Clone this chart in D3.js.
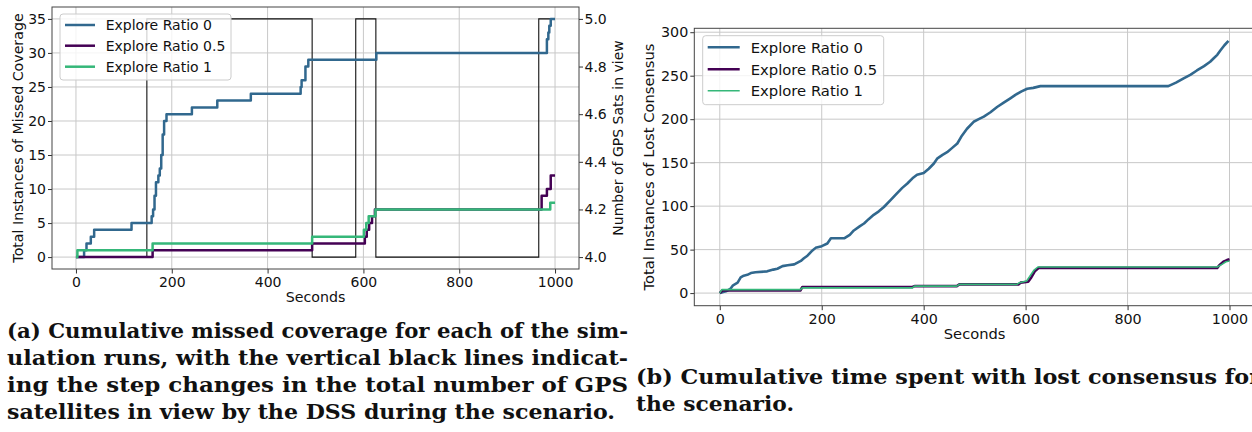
<!DOCTYPE html>
<html>
<head>
<meta charset="utf-8">
<script src="https://d3js.org/d3.v7.min.js"></script>
<style>
    body { margin: 0; background: #fff; }
    svg text { font-family: "DejaVu Sans", sans-serif; fill: #111; }
    .grid line { stroke: #c8c8c8; stroke-width: 1; }
    .tick text { font-size: 14px; }
    .caption { font-family: "DejaVu Serif", serif !important; font-weight: bold; font-size: 20px; }
</style>
</head>
<body>
<svg id="chart" width="1252" height="432"></svg>
<script>
// ---- data ----
var seriesNames = ['Explore Ratio 0', 'Explore Ratio 0.5', 'Explore Ratio 1'];
var seriesColors = ['#31688e', '#440154', '#35b779'];

// (a) cumulative missed coverage, [seconds, count]
var missedR0 = [[0,0],[17,1],[22,2],[31,3],[38,4],[116,5],[158,6],[161,7],[164,9],[167,11],[172,12],[175,13],[178,15],[181,18],[184,20],[189,21],
    [242,22],[295,23],[365,24],[469,25],[471,26],[479,28],[485,29],[627,30],[983,32],[986,33],[988,34],[991,35],[1000,35]];
var missedR05 = [[0,0],[160,1],[493,2],[603,3],[607,4],[612,5],[618,6],[624,7],[972,9],[983,10],[991,12],[1000,12]];
var missedR1 = [[0,0],[3,1],[160,2],[493,3],[601,4],[606,5],[611,6],[625,7],[990,8],[1000,8]];

// GPS satellites in view (step changes)
var gpsSats = [[0,4],[148,5],[493,4],[584,5],[626,4],[966,5],[1000,5]];

// (b) cumulative lost consensus
var consensusR0 = [[0,0],[5,1],[12,2],[18,4],[21,5],[26,9],[35,12],[41,18],[47,20],[54,21],[61,23],[70,24],[93,25],[105,27],[113,28],
    [123,31],[133,32],[146,33],[159,37],[165,40],[172,43],[180,48],[188,52],[200,54],[211,57],[218,63],[244,63],[255,67],[263,72],
    [275,77],[283,80],[292,85],[302,90],[312,94],[322,99],[335,107],[348,115],[358,121],[368,126],[378,132],[387,136],[400,138],
    [410,143],[420,149],[427,155],[437,159],[446,162],[456,167],[466,172],[475,181],[485,189],[498,197],[508,200],[518,203],
    [531,208],[544,214],[557,219],[570,224],[580,228],[592,232],[603,235],[615,236],[629,238],[880,238],[895,242],[910,247],
    [923,251],[936,256],[950,261],[962,266],[969,270],[976,274],[982,279],[990,285],[998,290]];
var consensusR05 = [[0,0],[5,3],[158,3],[162,7],[378,7],[382,8],[465,8],[470,10],[586,10],[590,12],[605,13],[610,17],[618,25],[626,29],
    [976,29],[980,32],[988,36],[995,38],[1000,39]];
var consensusR1 = [[0,0],[4,4],[158,4],[162,6],[378,6],[382,8],[465,8],[470,10],[583,10],[588,12],[602,14],[608,19],[616,26],[624,30],
    [976,30],[985,33],[993,36],[1000,37]];

var xTicks = [0, 200, 400, 600, 800, 1000];
var missedTicks = [0, 5, 10, 15, 20, 25, 30, 35];
var gpsTicks = [4.0, 4.2, 4.4, 4.6, 4.8, 5.0];
var consensusTicks = [0, 50, 100, 150, 200, 250, 300];

var captionA = ['(a) Cumulative missed coverage for each of the sim-',
    'ulation runs, with the vertical black lines indicat-',
    'ing the step changes in the total number of GPS',
    'satellites in view by the DSS during the scenario.'];
var captionB = ['(b) Cumulative time spent with lost consensus for', 'the scenario.'];

var svg = d3.select('#chart');

function drawPanel(box, yDomain, yTicks, yLabel, series, widths, curve, legendBox, legendFont) {
    var g = svg.append('g');
    var x = d3.scaleLinear().domain([-50, 1050]).range([box.x0, box.x1]);
    var y = d3.scaleLinear().domain(yDomain).range([box.y1, box.y0]);

    var clipId = 'clip' + Math.round(box.x0);
    svg.append('clipPath').attr('id', clipId).append('rect')
        .attr('x', box.x0).attr('y', box.y0).attr('width', box.x1 - box.x0).attr('height', box.y1 - box.y0);

    // grid
    var grid = g.append('g').attr('class', 'grid');
    grid.selectAll('.gx').data(xTicks).enter().append('line')
        .attr('x1', x).attr('x2', x).attr('y1', box.y0).attr('y2', box.y1);
    grid.selectAll('.gy').data(yTicks).enter().append('line')
        .attr('x1', box.x0).attr('x2', box.x1).attr('y1', y).attr('y2', y);

    var layer = g.append('g').attr('clip-path', 'url(#' + clipId + ')');

    var line = d3.line().x(function (d) { return x(d[0]); }).y(function (d) { return y(d[1]); }).curve(curve);
    series.forEach(function (s, i) {
        layer.append('path').datum(s).attr('d', line)
            .attr('fill', 'none').attr('stroke', seriesColors[i]).attr('stroke-width', widths[i])
            .attr('stroke-linejoin', 'round');
    });

    // axes
    g.append('g').attr('transform', 'translate(0,' + box.y1 + ')')
        .call(d3.axisBottom(x).tickValues(xTicks).tickSize(4.5).tickPadding(4).tickFormat(d3.format('d')));
    g.append('g').attr('transform', 'translate(' + box.x0 + ',0)')
        .call(d3.axisLeft(y).tickValues(yTicks).tickSize(4).tickPadding(2).tickFormat(d3.format('d')));
    g.selectAll('.domain').remove();
    g.selectAll('.tick line').attr('stroke', '#333');
    g.selectAll('.tick text').style('font-size', box.tickSize + 'px');

    g.append('rect').attr('x', box.x0).attr('y', box.y0).attr('width', box.x1 - box.x0).attr('height', box.y1 - box.y0)
        .attr('fill', 'none').attr('stroke', '#444').attr('stroke-width', 1);

    g.append('text').attr('x', (box.x0 + box.x1) / 2).attr('y', box.y1 + 33)
        .attr('text-anchor', 'middle').style('font-size', box.labelSize + 'px').text('Seconds');
    g.append('text').attr('transform', 'translate(' + box.ylabX + ',' + (box.y0 + box.y1) / 2 + ') rotate(-90)')
        .attr('text-anchor', 'middle').attr('dominant-baseline', 'central').style('font-size', box.labelSize + 'px').text(yLabel);

    return {g: g, x: x, y: y, layer: layer, legend: function () {
        var lg = g.append('g');
        lg.append('rect').attr('x', legendBox.x).attr('y', legendBox.y).attr('width', legendBox.w).attr('height', legendBox.h)
            .attr('rx', 3).attr('fill', '#fff').attr('fill-opacity', 0.8).attr('stroke', '#cccccc');
        seriesNames.forEach(function (n, i) {
            var yy = legendBox.rows[i];
            lg.append('line').attr('x1', legendBox.x + 5).attr('x2', legendBox.x + 5 + legendBox.handle)
                .attr('y1', yy).attr('y2', yy).attr('stroke', seriesColors[i]).attr('stroke-width', widths[i]);
            lg.append('text').attr('x', legendBox.tx).attr('y', yy).attr('dominant-baseline', 'central')
                .style('font-size', legendFont + 'px').text(n);
        });
    }};
}

// ---- panel (a) ----
var boxA = {x0: 52, x1: 579, y0: 7, y1: 269, ylabX: 18, labelSize: 14.2, tickSize: 14};
var pa = drawPanel(boxA, [-1.75, 36.75], missedTicks, 'Total Instances of Missed Coverage',
    [missedR0, missedR05, missedR1], [2.5, 2.5, 2.5], d3.curveStepAfter,
    {x: 60, y: 14, w: 171, h: 66, handle: 30, tx: 105.7, rows: [25, 45.7, 66.7]}, 14);

// twin axis for GPS sats
var yGps = d3.scaleLinear().domain([3.95, 5.05]).range([boxA.y1, boxA.y0]);
var gpsLine = d3.line().x(function (d) { return pa.x(d[0]); }).y(function (d) { return yGps(d[1]); }).curve(d3.curveStepAfter);
pa.layer.insert('path', ':first-child').datum(gpsSats).attr('d', gpsLine)
    .attr('fill', 'none').attr('stroke', '#111').attr('stroke-width', 1.1);
var ra = pa.g.append('g').attr('transform', 'translate(' + boxA.x1 + ',0)')
    .call(d3.axisRight(yGps).tickValues(gpsTicks).tickSize(4).tickPadding(1.5).tickFormat(d3.format('.1f')));
ra.select('.domain').remove();
ra.selectAll('.tick line').attr('stroke', '#333');
ra.selectAll('.tick text').style('font-size', '14px');
pa.g.append('text').attr('transform', 'translate(618,' + (boxA.y0 + boxA.y1) / 2 + ') rotate(-90)')
    .attr('text-anchor', 'middle').attr('dominant-baseline', 'central').style('font-size', '14px')
    .text('Number of GPS Sats in view');
pa.legend();

// ---- panel (b) ----
var boxB = {x0: 694.3, x1: 1255, y0: 28.3, y1: 305.7, ylabX: 648, labelSize: 14.7, tickSize: 14.3};
var pb = drawPanel(boxB, [-14.5, 304.5], consensusTicks, 'Total Instances of Lost Consensus',
    [consensusR0, consensusR05, consensusR1], [2.6, 2.6, 1.6], d3.curveLinear,
    {x: 702.7, y: 35.7, w: 181, h: 69, handle: 32, tx: 750.7, rows: [47.3, 69.3, 90.7]}, 14.8);
pb.legend();

// ---- captions ----
var capA = svg.append('g');
var capAWidths = [621, 621, 621, 608];
captionA.forEach(function (t, i) {
    capA.append('text').attr('class', 'caption').attr('x', 7).attr('y', 338 + i * 27)
        .attr('textLength', capAWidths[i]).attr('lengthAdjust', 'spacingAndGlyphs').text(t);
});
var capBWidths = [625, 158];
captionB.forEach(function (t, i) {
    svg.append('text').attr('class', 'caption').attr('x', 636).attr('y', 384 + i * 27)
        .attr('textLength', capBWidths[i]).attr('lengthAdjust', 'spacingAndGlyphs').text(t);
});
</script>
</body>
</html>
